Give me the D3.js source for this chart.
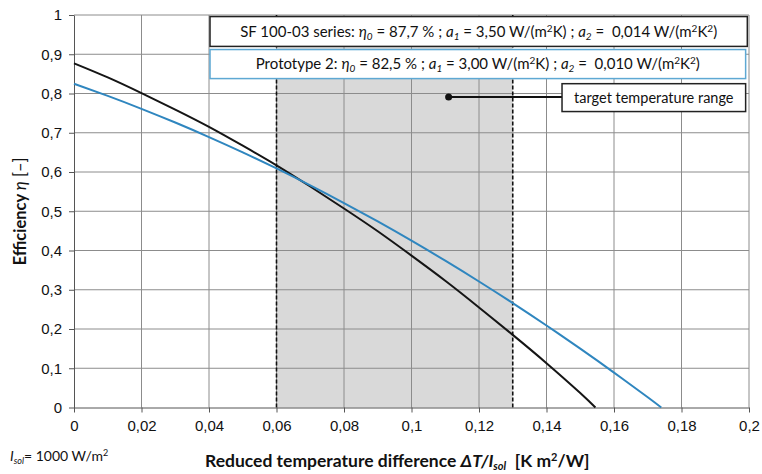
<!DOCTYPE html>
<html>
<head>
<meta charset="utf-8">
<script src="https://cdn.jsdelivr.net/npm/d3@7"></script>
<style>
  body { margin: 0; background: #fff; }
  svg { font-family: Lato, 'Open Sans', sans-serif; }
  svg text { white-space: pre; }
  .grid line { stroke: #8c8c8c; stroke-width: 1; }
  .axis path, .axis line { stroke: #555; }
  .axis text { font-size: 15px; fill: #111; }
</style>
</head>
<body>
<div id="chart"></div>
<script>
// reduced temperature difference [K m2/W]
const xSF = [0, 0.01, 0.02, 0.03, 0.04, 0.05, 0.06, 0.07, 0.08, 0.09, 0.10, 0.11, 0.12, 0.13, 0.14, 0.15, 0.1545];
const etaSF = [0.877, 0.841, 0.801, 0.759, 0.715, 0.667, 0.617, 0.563, 0.507, 0.449, 0.387, 0.323, 0.255, 0.185, 0.113, 0.037, 0];
const xProto = [0, 0.01, 0.02, 0.03, 0.04, 0.05, 0.06, 0.07, 0.08, 0.09, 0.10, 0.11, 0.12, 0.13, 0.14, 0.15, 0.16, 0.17, 0.174];
const etaProto = [0.825, 0.794, 0.761, 0.726, 0.689, 0.650, 0.609, 0.566, 0.521, 0.474, 0.425, 0.374, 0.321, 0.266, 0.209, 0.150, 0.089, 0.026, 0];
const targetRange = [0.06, 0.13];
const xTicks = [0, 0.02, 0.04, 0.06, 0.08, 0.1, 0.12, 0.14, 0.16, 0.18, 0.2];
const yTicks = [0, 0.1, 0.2, 0.3, 0.4, 0.5, 0.6, 0.7, 0.8, 0.9, 1];

const width = 762, height = 474;
const margin = { top: 15, right: 13, bottom: 66.5, left: 74 };
const w = width - margin.left - margin.right;
const h = height - margin.top - margin.bottom;

const svg = d3.select('#chart').append('svg')
  .attr('width', width).attr('height', height);

const x = d3.scaleLinear().domain([0, 0.2]).range([0, w]);
const y = d3.scaleLinear().domain([0, 1]).range([h, 0]);
const fmt = d => d3.format('~g')(d).replace('.', ',');

const g = svg.append('g')
  .attr('transform', `translate(${margin.left},${margin.top})`);

// target band
g.append('rect')
  .attr('x', x(targetRange[0])).attr('y', y(1))
  .attr('width', x(targetRange[1]) - x(targetRange[0]))
  .attr('height', y(0) - y(1))
  .attr('fill', '#d9d9d9');

// grid
g.append('g').attr('class', 'grid')
  .selectAll('line.v').data(xTicks.slice(1)).join('line')
  .attr('x1', d => x(d)).attr('x2', d => x(d))
  .attr('y1', y(0)).attr('y2', y(1));
g.append('g').attr('class', 'grid')
  .selectAll('line.h').data(yTicks.slice(1)).join('line')
  .attr('x1', 0).attr('x2', w)
  .attr('y1', d => y(d)).attr('y2', d => y(d));

// dashed range limits
g.selectAll('line.limit').data(targetRange).join('line')
  .attr('class', 'limit')
  .attr('x1', d => x(d)).attr('x2', d => x(d))
  .attr('y1', y(0)).attr('y2', y(1))
  .attr('stroke', '#111').attr('stroke-width', 1.6)
  .attr('stroke-dasharray', '4,2');

// axes
g.append('g').attr('class', 'axis')
  .attr('transform', `translate(0,${h})`)
  .call(d3.axisBottom(x).tickValues(xTicks).tickFormat(fmt).tickSize(5).tickSizeOuter(0))
  .call(s => s.selectAll('text').attr('dy', '1.05em'));
g.append('g').attr('class', 'axis')
  .call(d3.axisLeft(y).tickValues(yTicks).tickFormat(fmt).tickSize(5).tickSizeOuter(0))
  .call(s => s.selectAll('text').attr('x', -12));

// curves
const line = d3.line().x(d => x(d[0])).y(d => y(d[1])).curve(d3.curveNatural);
g.append('path')
  .datum(d3.zip(xSF, etaSF))
  .attr('d', line).attr('fill', 'none')
  .attr('stroke', '#151515').attr('stroke-width', 2);
g.append('path')
  .datum(d3.zip(xProto, etaProto))
  .attr('d', line).attr('fill', 'none')
  .attr('stroke', '#2f86bf').attr('stroke-width', 2);

// legend boxes
function legendBox(top, bottom, right, stroke, name, eta, a1, a2) {
  const x0 = x(0.0403), x1 = x(right);
  g.append('rect')
    .attr('x', x0).attr('y', y(top))
    .attr('width', x1 - x0).attr('height', y(bottom) - y(top))
    .attr('fill', '#fff').attr('stroke', stroke).attr('stroke-width', 1.5);
  const t = g.append('text')
    .attr('x', (x0 + x1) / 2).attr('y', (y(top) + y(bottom)) / 2)
    .attr('dy', '0.35em').attr('text-anchor', 'middle')
    .attr('font-size', 15).attr('fill', '#111');
  t.append('tspan').text(name + ': ');
  t.append('tspan').attr('font-style', 'italic').text('η');
  t.append('tspan').attr('font-style', 'italic').attr('font-size', 10).attr('dy', 3).text('0');
  t.append('tspan').attr('dy', -3).text(' = ' + eta + ' % ; ');
  t.append('tspan').attr('font-style', 'italic').text('a');
  t.append('tspan').attr('font-style', 'italic').attr('font-size', 10).attr('dy', 3).text('1');
  t.append('tspan').attr('dy', -3).text(' = ' + a1 + ' W/(m');
  t.append('tspan').attr('font-size', 10).attr('dy', -5).text('2');
  t.append('tspan').attr('dy', 5).text('K) ; ');
  t.append('tspan').attr('font-style', 'italic').text('a');
  t.append('tspan').attr('font-style', 'italic').attr('font-size', 10).attr('dy', 3).text('2');
  t.append('tspan').attr('dy', -3).text(' =  ' + a2 + ' W/(m');
  t.append('tspan').attr('font-size', 10).attr('dy', -5).text('2');
  t.append('tspan').attr('dy', 5).text('K');
  t.append('tspan').attr('font-size', 10).attr('dy', -5).text('2');
  t.append('tspan').attr('dy', 5).text(')');
}
legendBox(0.996, 0.92, 0.1995, '#222', 'SF 100-03 series', '87,7', '3,50', '0,014');
legendBox(0.912, 0.838, 0.199, '#5ea8d3', 'Prototype 2', '82,5', '3,00', '0,010');

// target range annotation
const dot = [0.111, 0.791];
g.append('line')
  .attr('x1', x(dot[0])).attr('x2', x(0.1446))
  .attr('y1', y(dot[1])).attr('y2', y(dot[1]))
  .attr('stroke', '#111').attr('stroke-width', 2);
g.append('circle')
  .attr('cx', x(dot[0])).attr('cy', y(dot[1])).attr('r', 3.5).attr('fill', '#111');
g.append('rect')
  .attr('x', x(0.1446)).attr('y', y(0.825))
  .attr('width', x(0.199) - x(0.1446)).attr('height', y(0.754) - y(0.825))
  .attr('fill', '#fff').attr('stroke', '#222').attr('stroke-width', 1.5);
g.append('text')
  .attr('x', (x(0.1446) + x(0.199)) / 2).attr('y', y(0.79))
  .attr('dy', '0.35em').attr('text-anchor', 'middle')
  .attr('font-size', 14.5).attr('fill', '#111')
  .text('target temperature range');

// axis titles
const yt = svg.append('text')
  .attr('transform', `translate(26,${margin.top + h / 2}) rotate(-90)`)
  .attr('text-anchor', 'middle').attr('font-size', 16.5).attr('font-weight', 'bold').attr('fill', '#111');
yt.append('tspan').text('Efficiency ');
yt.append('tspan').attr('font-style', 'italic').attr('font-weight', 'normal').text('η');
yt.append('tspan').attr('font-weight', 'normal').text(' [–]');

const xt = svg.append('text')
  .attr('x', 205).attr('y', 467)
  .attr('font-size', 17.5).attr('font-weight', 'bold').attr('fill', '#111');
xt.append('tspan').text('Reduced temperature difference ');
xt.append('tspan').attr('font-style', 'italic').text('ΔT/I');
xt.append('tspan').attr('font-style', 'italic').attr('font-size', 11).attr('dy', 3).text('sol');
xt.append('tspan').attr('dy', -3).text('  [K m');
xt.append('tspan').attr('font-size', 11).attr('dy', -6).text('2');
xt.append('tspan').attr('dy', 6).text('/W]');

const it = svg.append('text')
  .attr('x', 10).attr('y', 461).attr('font-size', 14).attr('fill', '#111');
it.append('tspan').attr('font-style', 'italic').text('I');
it.append('tspan').attr('font-style', 'italic').attr('font-size', 9).attr('dy', 3).text('sol');
it.append('tspan').attr('dy', -3).text('= 1000 W/m');
it.append('tspan').attr('font-size', 9).attr('dy', -5).text('2');
</script>
</body>
</html>
